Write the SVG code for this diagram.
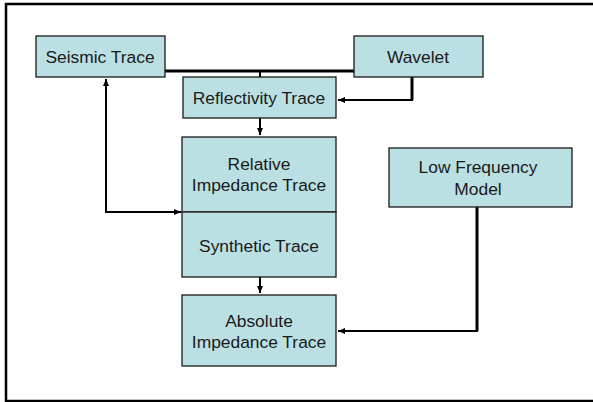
<svg xmlns="http://www.w3.org/2000/svg" width="593" height="402" viewBox="0 0 593 402">
<style>
.box{fill:#BBE0E3;stroke:#1a1a1a;stroke-width:1.3}
.t{font-family:"Liberation Sans",Arial,sans-serif;font-size:17.4px;fill:#1a1a1a;text-anchor:middle}
.c{fill:none;stroke:#000;stroke-width:2}
.ck{fill:none;stroke:#000;stroke-width:3}
</style>
<defs>
<marker id="ah" markerWidth="8" markerHeight="8" refX="7" refY="4" orient="auto" markerUnits="userSpaceOnUse">
<path d="M0,1 L7,4 L0,7 Z" fill="#000"/>
</marker>
</defs>
<rect x="6" y="4" width="600" height="397" fill="#fff" stroke="#000" stroke-width="2.5"/>
<g id="connectors">
<path class="ck" d="M165,71 H354"/>
<path class="c" d="M260,71 V77"/>
<path class="ck" d="M412,77 V100"/>
<path class="c" d="M413,100 H338" marker-end="url(#ah)"/>
<path class="c" d="M260,118 V135" marker-end="url(#ah)"/>
<path class="c" d="M106,212 V79" marker-end="url(#ah)"/>
<path class="c" d="M105,212 H181" marker-end="url(#ah)"/>
<path class="c" d="M260,277 V293" marker-end="url(#ah)"/>
<path class="ck" d="M477,207 V331"/>
<path class="c" d="M478,331 H338" marker-end="url(#ah)"/>
</g>
<g id="seismic"><rect class="box" x="36" y="36" width="129" height="41"/><text class="t" x="100" y="63">Seismic Trace</text></g>
<g id="wavelet"><rect class="box" x="354" y="36" width="129" height="41"/><text class="t" x="418" y="63">Wavelet</text></g>
<g id="reflectivity"><rect class="box" x="183" y="77" width="153" height="41"/><text class="t" x="259" y="104">Reflectivity Trace</text></g>
<g id="relative"><rect class="box" x="182" y="137" width="154" height="75"/><text class="t" x="259" y="170">Relative</text><text class="t" x="259" y="191">Impedance Trace</text></g>
<g id="synthetic"><rect class="box" x="182" y="212" width="154" height="65"/><text class="t" x="259" y="252">Synthetic Trace</text></g>
<g id="absolute"><rect class="box" x="182" y="295" width="154" height="71"/><text class="t" x="259" y="327">Absolute</text><text class="t" x="259" y="348">Impedance Trace</text></g>
<g id="lowfreq"><rect class="box" x="389" y="148" width="183" height="59"/><text class="t" x="478" y="173">Low Frequency</text><text class="t" x="478" y="195">Model</text></g>
</svg>
